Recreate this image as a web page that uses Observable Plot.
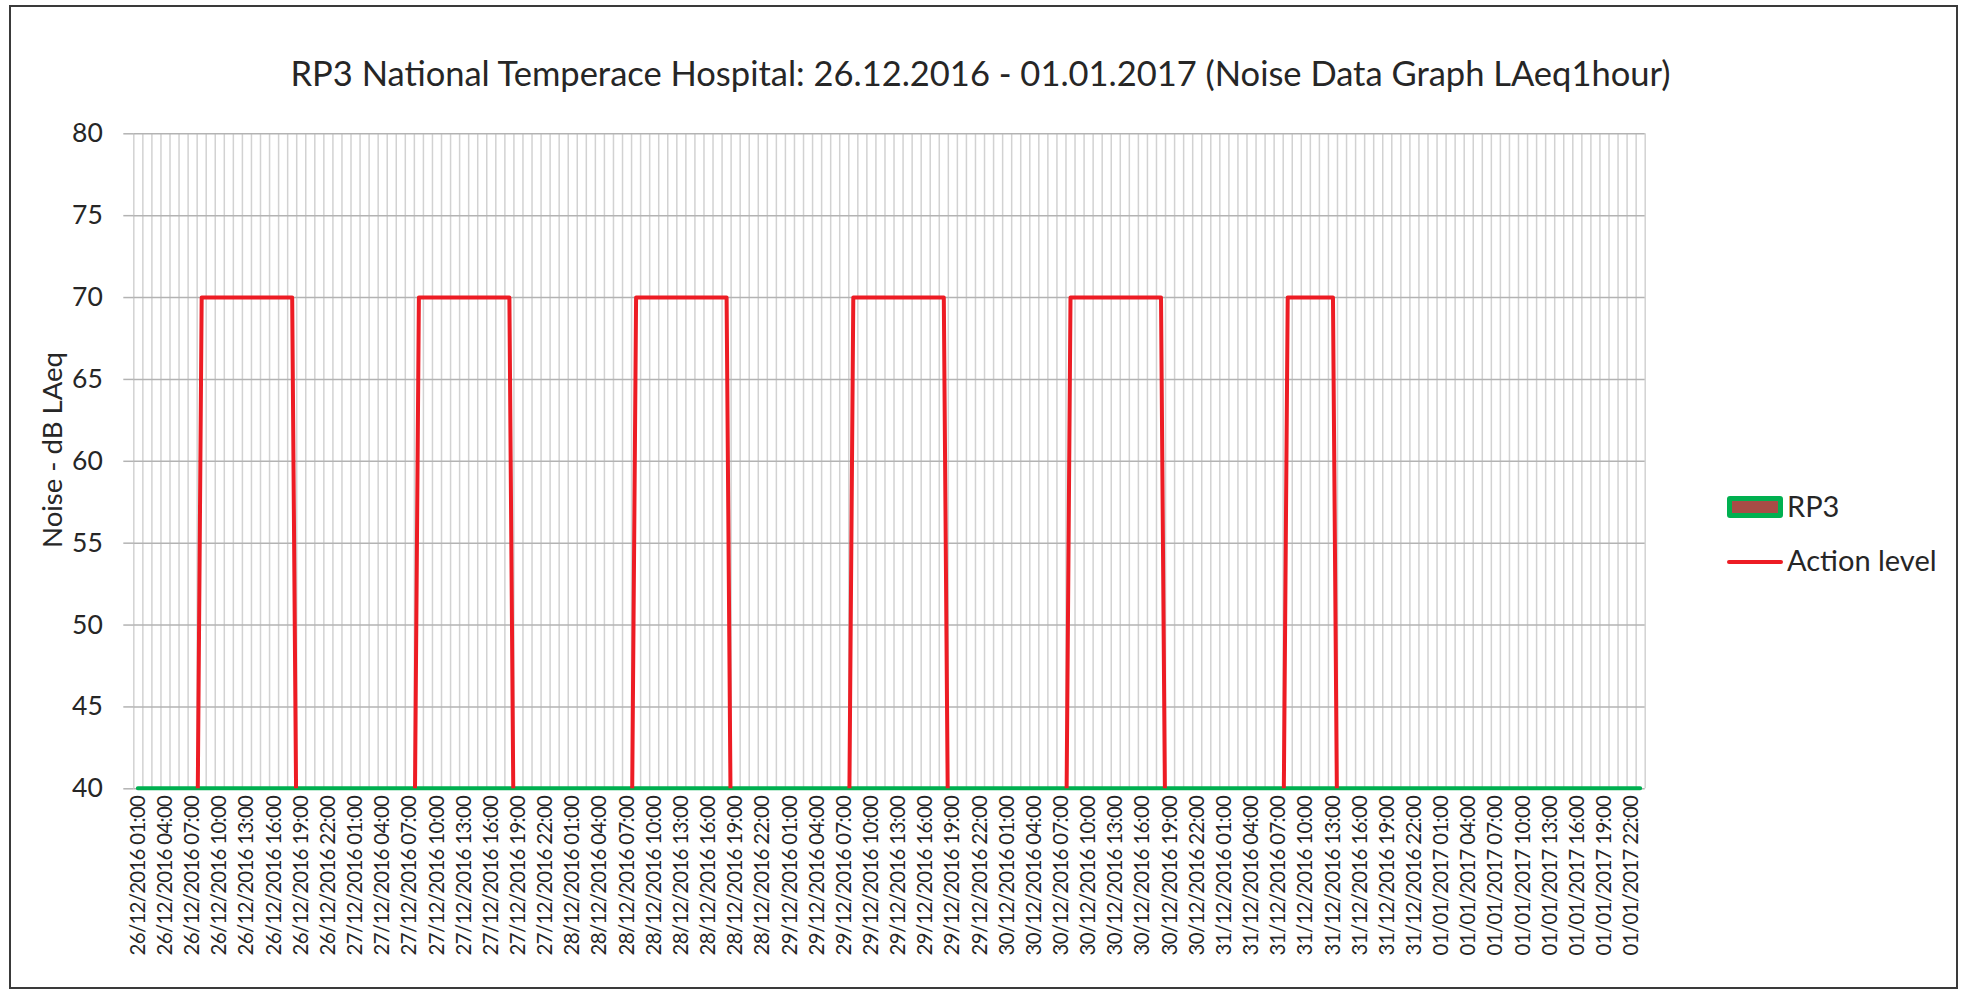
<!DOCTYPE html>
<html><head><meta charset="utf-8">
<script src="https://cdn.jsdelivr.net/npm/d3@7"></script>
<script src="https://cdn.jsdelivr.net/npm/@observablehq/plot@0.6"></script>
<style>
html,body{margin:0;padding:0;background:#fff;}
body{width:1961px;height:990px;position:relative;overflow:hidden;font-family:Lato,"Open Sans",sans-serif;color:#262626;}
#frame{position:absolute;left:9px;top:5px;width:1945px;height:980px;border:2px solid #3a3a3a;box-sizing:content-box;}
#title{position:absolute;left:0;top:51.5px;width:1961px;text-align:center;font-size:34.5px;line-height:normal;white-space:nowrap;}
#ylab{position:absolute;left:51px;top:450px;transform:translate(-50%,-50%) rotate(-90deg);font-size:27.5px;white-space:nowrap;}
#chart{position:absolute;left:0;top:110px;}
.lg{position:absolute;font-size:29px;line-height:normal;white-space:nowrap;}
#sw1{position:absolute;left:1727px;top:496px;width:46px;height:12px;border:5px solid #00b050;border-radius:3px;background:#a74c46;}
#sw2{position:absolute;left:1727px;top:560px;width:56px;height:4px;background:#ed1c24;border-radius:2px;}
#chart g[aria-label="y-axis tick label"]{font-size:26.5px;}
#chart g[aria-label="x-axis tick label"]{font-size:20.5px;letter-spacing:-0.75px;}
</style>
</head><body>
<div id="frame"></div>
<div id="title"></div>
<div id="ylab"></div>
<div id="chart"></div>
<div id="sw1"></div><div id="sw2"></div>
<div class="lg" id="lg1" style="left:1787px;top:488px;"></div>
<div class="lg" id="lg2" style="left:1787px;top:542px;"></div>
<script>
// ---- data ----
const title = "RP3 National Temperace Hospital: 26.12.2016 - 01.01.2017 (Noise Data Graph LAeq1hour)";
const yLabel = "Noise - dB LAeq";
const seriesNames = ["RP3", "Action level"];
const days = ["26/12/2016","27/12/2016","28/12/2016","29/12/2016","30/12/2016","31/12/2016","01/01/2017"];
const hours = ["00:00","01:00","02:00","03:00","04:00","05:00","06:00","07:00","08:00","09:00","10:00","11:00",
               "12:00","13:00","14:00","15:00","16:00","17:00","18:00","19:00","20:00","21:00","22:00","23:00"];
// hourly categories: 26/12/2016 01:00 ... 01/01/2017 23:00
const categories = days.flatMap(d => hours.map(h => d + " " + h)).slice(1);
const labelEvery = 3;
const yTicks = [40,45,50,55,60,65,70,75,80];
const yDomain = [40,80];
// Action level (dB), one value per hour, rows = days
const actionLevel = [
  0,0,0,0,0,0,0, 70,70,70,70,70,70,70,70,70,70,70, 0,0,0,0,0,            // 26/12 (from 01:00)
  0,0,0,0,0,0,0,0, 70,70,70,70,70,70,70,70,70,70,70, 0,0,0,0,0,          // 27/12
  0,0,0,0,0,0,0,0, 70,70,70,70,70,70,70,70,70,70,70, 0,0,0,0,0,          // 28/12
  0,0,0,0,0,0,0,0, 70,70,70,70,70,70,70,70,70,70,70, 0,0,0,0,0,          // 29/12
  0,0,0,0,0,0,0,0, 70,70,70,70,70,70,70,70,70,70,70, 0,0,0,0,0,          // 30/12
  0,0,0,0,0,0,0,0, 70,70,70,70,70,70, 0,0,0,0,0,0,0,0,0,0,               // 31/12
  0,0,0,0,0,0,0,0,0,0,0,0,0,0,0,0,0,0,0,0,0,0,0,0                        // 01/01
];
// RP3 measured level as shown (at the axis floor)
const rp3 = [
  40,40,40,40,40,40,40,40,40,40,40,40,40,40,40,40,40,40,40,40,40,40,40,
  40,40,40,40,40,40,40,40,40,40,40,40,40,40,40,40,40,40,40,40,40,40,40,40,
  40,40,40,40,40,40,40,40,40,40,40,40,40,40,40,40,40,40,40,40,40,40,40,40,
  40,40,40,40,40,40,40,40,40,40,40,40,40,40,40,40,40,40,40,40,40,40,40,40,
  40,40,40,40,40,40,40,40,40,40,40,40,40,40,40,40,40,40,40,40,40,40,40,40,
  40,40,40,40,40,40,40,40,40,40,40,40,40,40,40,40,40,40,40,40,40,40,40,40,
  40,40,40,40,40,40,40,40,40,40,40,40,40,40,40,40,40,40,40,40,40,40,40,40
];
const colors = {rp3Fill:"#a74c46", rp3Stroke:"#00b050", action:"#ed1c24", gridV:"#d2d2d2", gridH:"#b3b3b3", text:"#262626"};

// ---- build ----
const data = categories.map((c,i) => ({i, c, action: actionLevel[i], rp3: rp3[i]}));
const n = categories.length;
const boundaries = d3.range(n + 1).map(k => k - 0.5);
const tickIdx = d3.range(0, n, labelEvery);

document.getElementById("title").textContent = title;
document.getElementById("ylab").textContent = yLabel;
document.getElementById("lg1").textContent = seriesNames[0];
document.getElementById("lg2").textContent = seriesNames[1];

const chart = Plot.plot({
  width: 1961, height: 880,
  marginLeft: 133.3, marginRight: 316.3, marginTop: 23.3, marginBottom: 201.7,
  x: {type: "linear", domain: [-0.5, n - 0.5]},
  y: {domain: yDomain},
  style: {fontFamily: "Lato, 'Open Sans', sans-serif", color: colors.text, background: "transparent", overflow: "visible"},
  marks: [
    Plot.ruleX(boundaries, {stroke: colors.gridV, strokeWidth: 1.5}),
    Plot.ruleY(yTicks, {stroke: colors.gridH, strokeWidth: 1.5}),
    Plot.axisY(yTicks, {tickSize: 10, tickPadding: 21, stroke: colors.gridH, strokeWidth: 1.5, fill: colors.text, fontSize: 26.5, label: null}),
    Plot.axisX(tickIdx, {tickFormat: i => categories[i], tickRotate: -90, tickSize: 0, tickPadding: 7, fill: colors.text, fontSize: 20.5, label: null}),
    Plot.areaY(data, {x: "i", y1: yDomain[0], y2: "rp3", fill: colors.rp3Fill, stroke: colors.rp3Stroke, strokeWidth: 4}),
    Plot.lineY(data, {x: "i", y: "action", stroke: colors.action, strokeWidth: 4, clip: true})
  ]
});
document.getElementById("chart").appendChild(chart);
</script>
</body></html>
